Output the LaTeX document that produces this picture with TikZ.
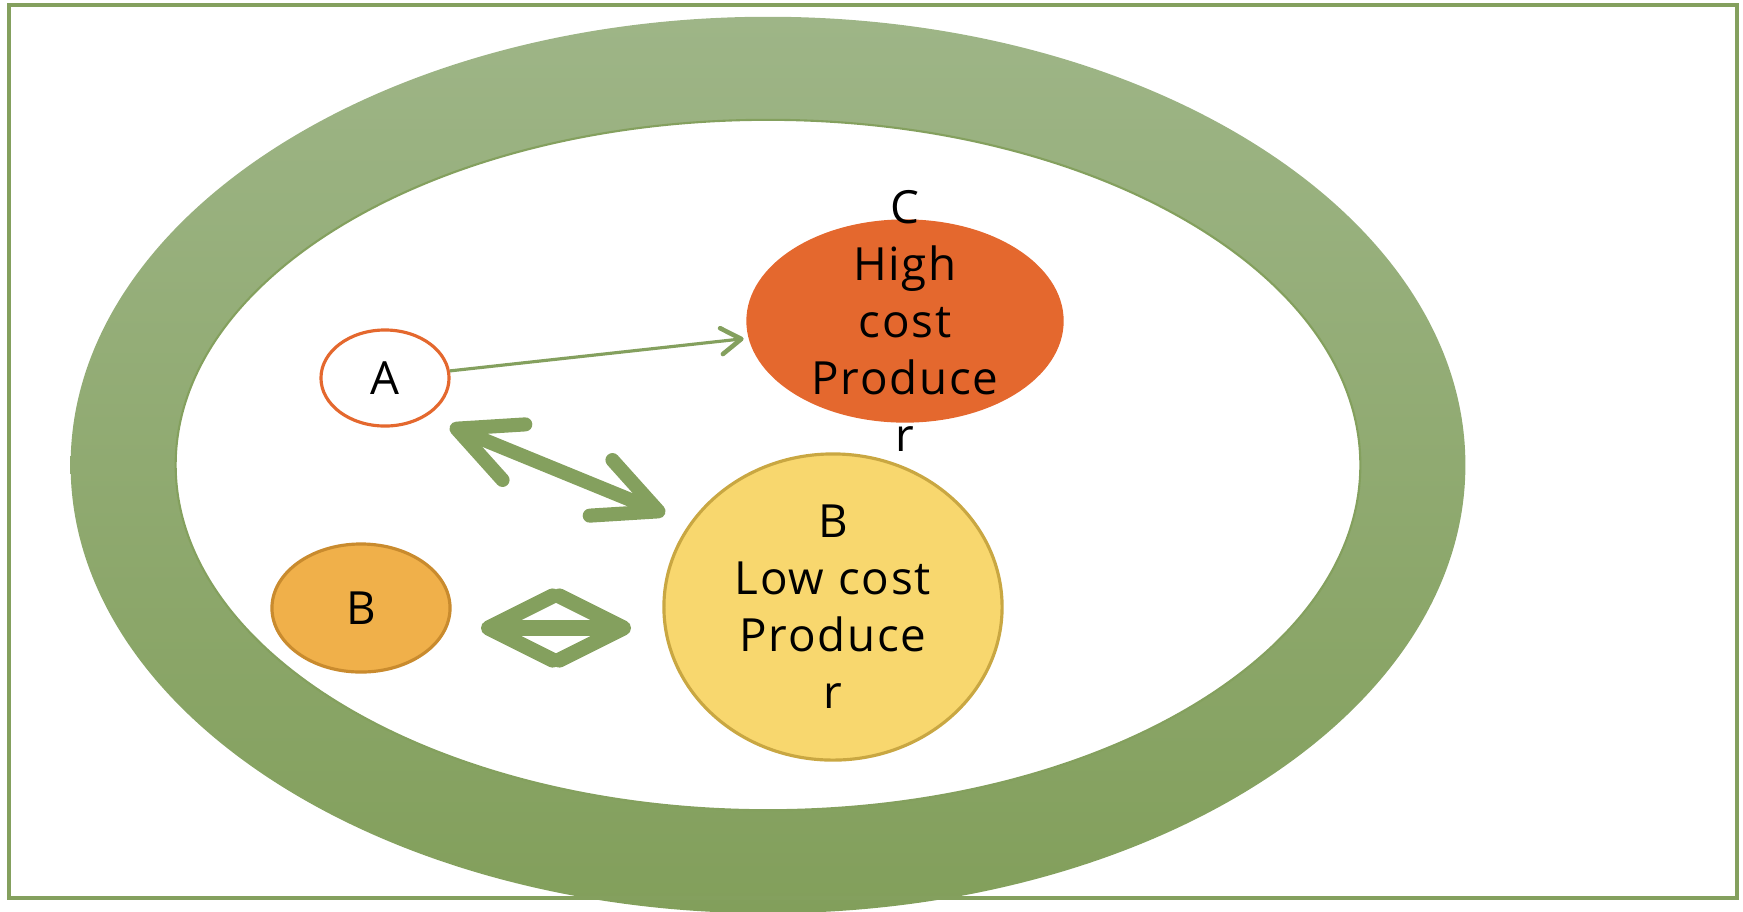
\documentclass[tikz,border=0pt]{standalone}
\usepackage{fontspec}
\setmainfont{Open Sans}[LetterSpace=4]
\usetikzlibrary{arrows.meta,shapes.geometric}

\definecolor{ringgreen}{HTML}{84A05E}
\definecolor{ringtop}{HTML}{9EB587}
\definecolor{ringbottom}{HTML}{829F5B}
\definecolor{highcost}{HTML}{E4682E}
\definecolor{smallb}{HTML}{F0B04A}
\definecolor{smallbline}{HTML}{C98B2E}
\definecolor{lowcost}{HTML}{F8D76E}
\definecolor{lowcostline}{HTML}{C9A742}

\tikzstyle{firm} = [draw, ellipse, inner sep=0pt, line width=0.9pt, font=\fontsize{13}{16.2}\selectfont]
\tikzstyle{firmtext} = [align=center, font=\fontsize{13}{16.2}\selectfont]
\tikzstyle{thinarrow} = [draw=ringgreen, line width=0.9pt,
    -{Straight Barb[length=2mm,width=2.6mm,round,line width=1.3pt]}]
\tikzstyle{bigarrow} = [draw=ringgreen, line width=4pt,
    {Straight Barb[length=6.2mm,width=6mm,round]}-{Straight Barb[length=6.2mm,width=6mm,round]}]
\tikzstyle{smallarrow} = [draw=ringgreen, line width=4.3pt,
    {Straight Barb[length=6.4mm,width=6.4mm,round]}-{Straight Barb[length=6.4mm,width=6.4mm,round]}]

\begin{document}
\begin{tikzpicture}[x=0.01cm, y=-0.01cm]
    \useasboundingbox (0,0) rectangle (1743,911);
    \clip (0,0) rectangle (1743,911);

    % market ring
    \shade [top color=ringtop, bottom color=ringbottom, even odd rule]
        (768,465) ellipse [x radius=6.97cm, y radius=4.48cm]
        (768,465) ellipse [x radius=5.92cm, y radius=3.45cm];
    \draw [ringgreen, line width=0.6pt] (768,465) ellipse [x radius=5.92cm, y radius=3.45cm];
    \draw [ringgreen, line width=0.9pt] (9,5) rectangle (1737,898);

    \node [firm, fill=white, draw=highcost, minimum width=1.28cm, minimum height=0.96cm] (a) at (385,378) {A};
    \node [firm, fill=highcost, draw=highcost, minimum width=3.14cm, minimum height=2cm,
        label={[firmtext]center:{C\\High\\cost\\Produce\\r}}] (c) at (905,321) {};
    \node [firm, fill=smallb, draw=smallbline, minimum width=1.78cm, minimum height=1.28cm] (bs) at (361,608) {B};
    \node [firm, fill=lowcost, draw=lowcostline, minimum width=3.38cm, minimum height=3.06cm,
        label={[firmtext]center:{B\\Low cost\\Produce\\r}}] (bl) at (833,607) {};

    \coordinate (abl) at (450,426);
    \coordinate (bla) at (665,514);
    \coordinate (bsbl) at (481,628);
    \coordinate (blbs) at (631,628);

    \draw [thinarrow, shorten >=0.05cm] (a) -- (c);
    \draw [bigarrow] (abl) -- (bla);
    \draw [smallarrow] (bsbl) -- (blbs);
\end{tikzpicture}
\end{document}
